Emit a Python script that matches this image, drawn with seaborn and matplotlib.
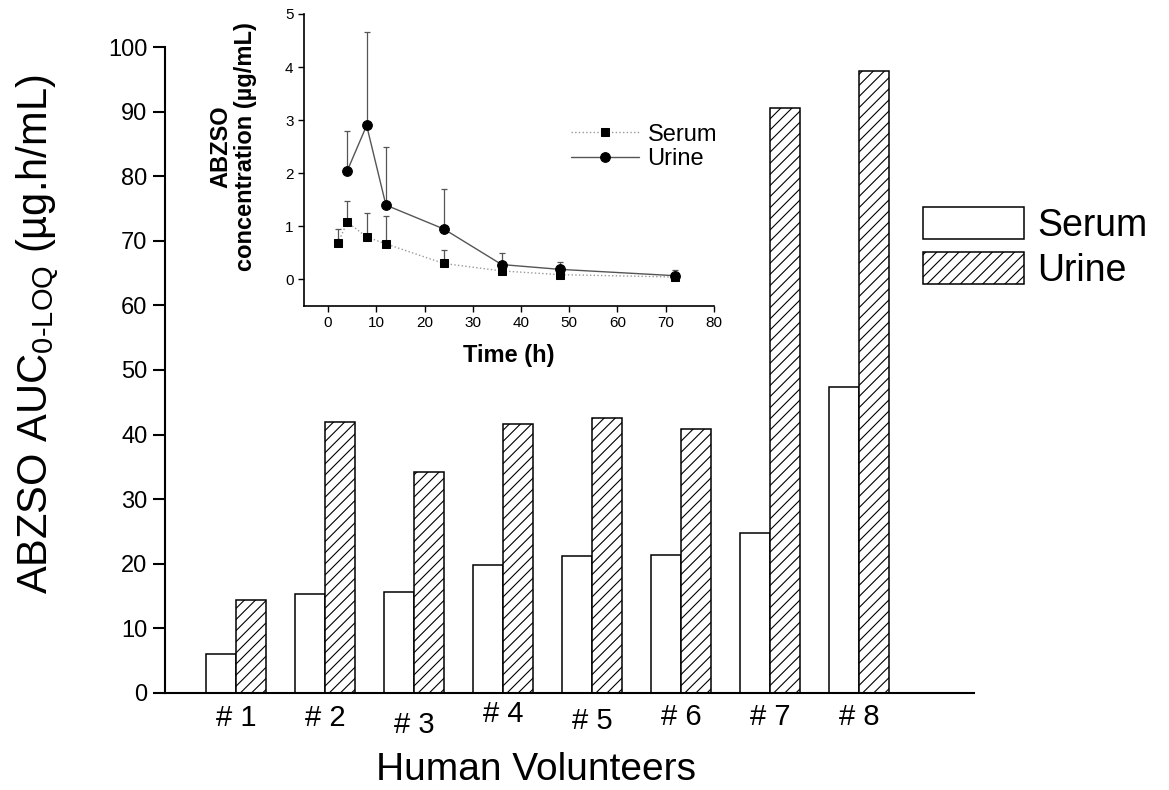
import numpy as np
import pandas as pd
import matplotlib
matplotlib.use("Agg")
import matplotlib.pyplot as plt
import seaborn as sns

# main chart: AUC per volunteer
volunteers = ["# 1", "# 2", "# 3", "# 4", "# 5", "# 6", "# 7", "# 8"]
serum_auc = [6.0, 15.3, 15.6, 19.8, 21.2, 21.3, 24.8, 47.3]
urine_auc = [14.4, 41.9, 34.2, 41.6, 42.6, 40.9, 90.5, 96.3]
y_ticks = [0, 10, 20, 30, 40, 50, 60, 70, 80, 90, 100]

# inset: concentration vs time
serum_t = [2, 4, 8, 12, 24, 36, 48, 72]
serum_conc = [0.68, 1.08, 0.80, 0.67, 0.30, 0.16, 0.09, 0.045]
serum_err = [0.27, 0.39, 0.46, 0.52, 0.26, 0.06, 0.06, 0.05]
urine_t = [4, 8, 12, 24, 36, 48, 72]
urine_conc = [2.05, 2.90, 1.40, 0.95, 0.28, 0.19, 0.07]
urine_err = [0.74, 1.77, 1.10, 0.75, 0.22, 0.14, 0.11]

sns.set_theme(style="ticks")
plt.rcParams["font.family"] = ["Liberation Sans", "DejaVu Sans"]
plt.rcParams["mathtext.fontset"] = "custom"
plt.rcParams["mathtext.rm"] = "Liberation Sans"
plt.rcParams["hatch.linewidth"] = 0.8
plt.rcParams["hatch.color"] = "black"
plt.rcParams["text.color"] = "black"
plt.rcParams["axes.labelcolor"] = "black"
plt.rcParams["xtick.color"] = "black"
plt.rcParams["ytick.color"] = "black"

df = pd.DataFrame({
    "volunteer": volunteers * 2,
    "auc": serum_auc + urine_auc,
    "sample": ["Serum"] * len(volunteers) + ["Urine"] * len(volunteers),
})

fig = plt.figure(figsize=(11.69, 7.9), dpi=100)
ax = fig.add_axes([0.1411, 0.1228, 0.692, 0.8177])

sns.barplot(data=df, x="volunteer", y="auc", hue="sample", ax=ax,
            palette=["white", "white"], saturation=1, width=0.667,
            edgecolor="black", linewidth=1.1, legend=False)
for bar in ax.containers[1]:
    bar.set_hatch("///")

ax.set_xlim(-0.80, 8.29)
ax.set_ylim(0, 100)
ax.set_yticks(y_ticks)
sns.despine(ax=ax)
for s in ["left", "bottom"]:
    ax.spines[s].set_linewidth(1.5)
    ax.spines[s].set_color("black")
ax.tick_params(axis="y", direction="out", length=9, width=1.5, labelsize=17)
ax.tick_params(axis="x", length=0, labelsize=21)
pads = [8, 8, 13, 5, 10, 7, 7, 7]
for tick, p in zip(ax.xaxis.get_major_ticks(), pads):
    tick.set_pad(p)

ax.set_ylabel(r"ABZSO AUC$_{\mathregular{0\text{-}LOQ}}$ (µg.h/mL)", fontsize=30)
ax.yaxis.set_label_coords(-0.128, 0.555)
ax.set_xlabel("Human Volunteers", fontsize=28)
ax.xaxis.set_label_coords(0.459, -0.092)

ax.legend(handles=[ax.containers[0], ax.containers[1]], labels=["Serum", "Urine"],
          loc="upper left", bbox_to_anchor=(0.7896, 0.738), bbox_transform=fig.transFigure,
          frameon=False, fontsize=27, handlelength=2.7, handleheight=0.95,
          handletextpad=0.35, labelspacing=0.2, borderpad=0, borderaxespad=0)

# inset
ins = fig.add_axes([0.260, 0.6127, 0.3507, 0.3696])
ins.set_facecolor("none")
ins.errorbar(serum_t, serum_conc, yerr=[np.zeros(len(serum_err)), serum_err],
             fmt="none", ecolor="#555555", elinewidth=0.9, capsize=2.5, capthick=0.9)
ins.errorbar(urine_t, urine_conc, yerr=[np.zeros(len(urine_err)), urine_err],
             fmt="none", ecolor="#555555", elinewidth=0.9, capsize=2.5, capthick=0.9)
sns.lineplot(x=serum_t, y=serum_conc, ax=ins, color="#999999", linestyle=":",
             linewidth=1.0, marker="s", markersize=6, markerfacecolor="black",
             markeredgecolor="black", label="Serum")
sns.lineplot(x=urine_t, y=urine_conc, ax=ins, color="#555555", linestyle="-",
             linewidth=1.0, marker="o", markersize=7, markerfacecolor="black",
             markeredgecolor="black", label="Urine")

ins.set_xlim(-5, 80)
ins.set_ylim(-0.5, 5)
ins.set_xticks(range(0, 81, 10))
ins.set_yticks(range(0, 6))
sns.despine(ax=ins)
for s in ["left", "bottom"]:
    ins.spines[s].set_linewidth(1.2)
    ins.spines[s].set_color("black")
ins.tick_params(direction="out", length=4, width=1, labelsize=11)
ins.set_xlabel("Time (h)", fontsize=17, fontweight="bold")
ins.xaxis.set_label_coords(0.50, -0.13)
ins.set_ylabel("ABZSO\nconcentration (µg/mL)", fontsize=17, fontweight="bold",
               linespacing=1.1)
ins.yaxis.set_label_coords(-0.115, 0.545)
ins.legend(loc="center left", bbox_to_anchor=(0.651, 0.545), frameon=False,
           fontsize=17, handlelength=2.9, handletextpad=0.35, labelspacing=0.1,
           borderpad=0, borderaxespad=0)

fig.savefig("out.png", dpi=100)
